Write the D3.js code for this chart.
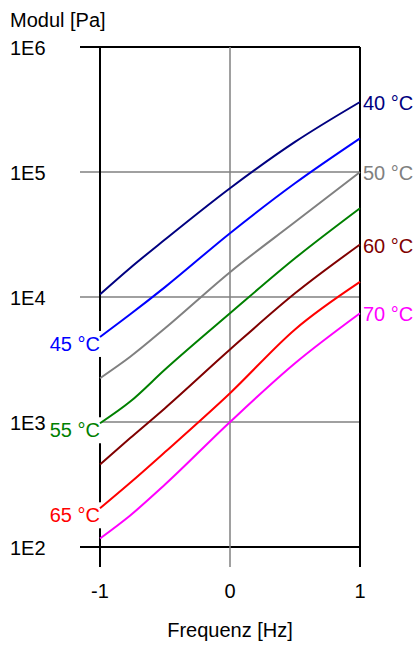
<!DOCTYPE html>
<html>
<head>
<meta charset="utf-8">
<script src="https://cdn.jsdelivr.net/npm/d3@7"></script>
<style>
    body { margin: 0; background: #fff; }
    svg { display: block; font-family: "Liberation Sans", Arial, sans-serif; }
</style>
</head>
<body>
<svg id="viz"></svg>
<script>
// log10 of frequency [Hz]
let freqs = [-1, -0.77, -0.5, 0, 0.5, 1]
// modulus [Pa] per temperature
let mod40 = [10500, 17000, 28800, 74100, 174000, 363000]
let mod45 = [4790, 7240, 12000, 32400, 81300, 186000]
let mod50 = [2240, 3310, 5620, 15800, 39800, 100000]
let mod55 = [977, 1450, 2630, 7410, 20400, 51300]
let mod60 = [457, 740, 1290, 3800, 10700, 26300]
let mod65 = [204, 325, 575, 1700, 5500, 13200]
let mod70 = [117, 178, 316, 1000, 2950, 7410]
let seriesNames = ['40 °C', '45 °C', '50 °C', '55 °C', '60 °C', '65 °C', '70 °C']
let seriesColors = ['#000080', '#0000ff', '#808080', '#008000', '#800000', '#ff0000', '#ff00ff']
let yTicks = [1e2, 1e3, 1e4, 1e5, 1e6]
let yTickLabels = ['1E2', '1E3', '1E4', '1E5', '1E6']
let xTicks = [-1, 0, 1]
let xTickLabels = ['-1', '0', '1']

;(function () {
    let config = {
        width: 414,
        height: 646,
        plot: { left: 100, right: 360, top: 47, bottom: 547 },
        tickLen: 20,
        fontSize: 20
    }
    let series = [mod40, mod45, mod50, mod55, mod60, mod65, mod70]

    let svg = d3.select('#viz')
        .attr('width', config.width)
        .attr('height', config.height)
    let p = config.plot

    let xScale = d3.scaleLinear().domain([-1, 1]).range([p.left, p.right])
    let yScale = d3.scaleLog().domain([1e2, 1e6]).range([p.bottom, p.top])

    // horizontal grid / frame lines
    yTicks.forEach((t, i) => {
        let edge = i === 0 || i === yTicks.length - 1
        svg.append('line')
            .attr('x1', p.left - config.tickLen).attr('x2', p.right)
            .attr('y1', yScale(t)).attr('y2', yScale(t))
            .attr('stroke', edge ? '#000' : '#808080')
            .attr('stroke-width', edge ? 2 : 1.5)
        svg.append('text')
            .attr('x', 10)
            .attr('y', yScale(t) + 8)
            .attr('font-size', config.fontSize)
            .text(yTickLabels[i])
    })

    // vertical lines
    xTicks.forEach((t, i) => {
        let edge = i === 0 || i === xTicks.length - 1
        svg.append('line')
            .attr('x1', xScale(t)).attr('x2', xScale(t))
            .attr('y1', p.top).attr('y2', p.bottom + config.tickLen)
            .attr('stroke', edge ? '#000' : '#808080')
            .attr('stroke-width', edge ? 2 : 1.5)
        svg.append('text')
            .attr('x', xScale(t))
            .attr('y', 598)
            .attr('text-anchor', 'middle')
            .attr('font-size', config.fontSize)
            .text(xTickLabels[i])
    })

    svg.append('text')
        .attr('x', 10).attr('y', 27)
        .attr('font-size', config.fontSize)
        .text('Modul [Pa]')
    svg.append('text')
        .attr('x', xScale(0)).attr('y', 637)
        .attr('text-anchor', 'middle')
        .attr('font-size', config.fontSize)
        .text('Frequenz [Hz]')

    let line = d3.line()
        .x((d, i) => xScale(freqs[i]))
        .y(d => yScale(d))
        .curve(d3.curveMonotoneX)

    series.forEach((vals, k) => {
        let color = seriesColors[k]
        if (k % 2 === 1) {
            // left side label, opaque background over the axis
            let y0 = yScale(vals[0])
            let t = svg.append('text')
                .attr('x', p.left)
                .attr('y', y0 + 14)
                .attr('text-anchor', 'end')
                .attr('font-size', config.fontSize)
                .attr('fill', color)
                .text(seriesNames[k])
            let bb = t.node().getBBox()
            svg.insert('rect', () => t.node())
                .attr('x', bb.x).attr('y', bb.y - 2)
                .attr('width', bb.width + 2).attr('height', bb.height + 4)
                .attr('fill', '#fff')
        } else {
            let y1 = yScale(vals[vals.length - 1])
            svg.append('text')
                .attr('x', p.right + 3)
                .attr('y', y1 + 8)
                .attr('font-size', config.fontSize)
                .attr('fill', color)
                .text(seriesNames[k])
        }
        svg.append('path')
            .datum(vals)
            .attr('d', line)
            .attr('fill', 'none')
            .attr('stroke', color)
            .attr('stroke-width', 2)
    })
})()
</script>
</body>
</html>
